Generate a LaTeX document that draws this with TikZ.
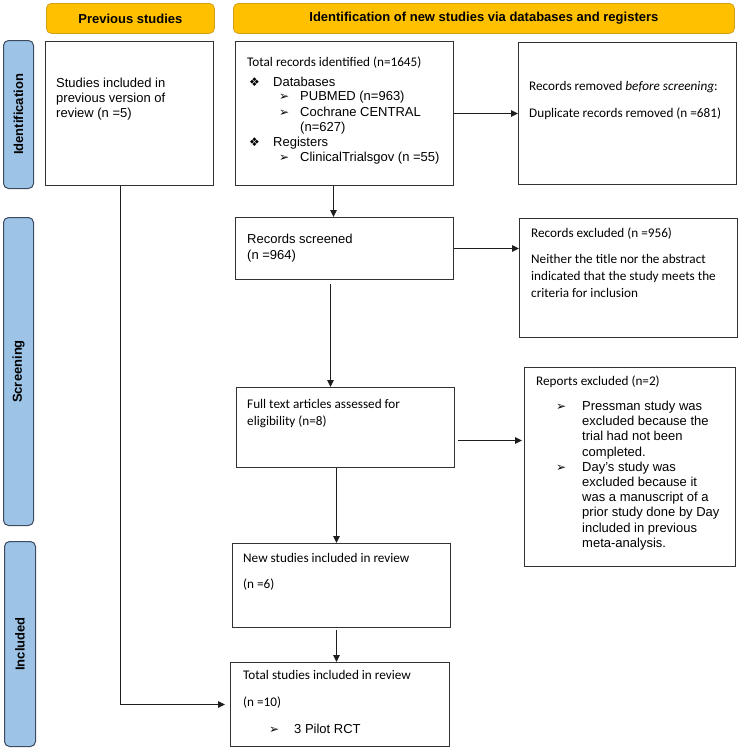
\documentclass[tikz,border=0pt]{standalone}
\usepackage{fontspec}
\setmainfont{Liberation Sans}
\newfontfamily\calib{Carlito}
\newfontfamily\djv{DejaVu Sans}
\usetikzlibrary{arrows.meta}
\begin{document}
\begin{tikzpicture}[x=1pt,y=-1pt,
  box/.style={draw={rgb,255:red,50;green,50;blue,50}, line width=1pt, inner sep=0pt, anchor=north west},
  hdr/.style={draw={rgb,255:red,214;green,160;blue,20}, fill={rgb,255:red,255;green,192;blue,0}, rounded corners=5pt, line width=0.8pt, inner sep=0pt, anchor=north west, font=\bfseries\fontsize{13}{15}\selectfont},
  side/.style={draw={rgb,255:red,60;green,75;blue,95}, fill={rgb,255:red,157;green,195;blue,230}, rounded corners=5pt, line width=1pt, inner sep=0pt, anchor=north west},
  sidelbl/.style={rotate=90, font=\bfseries\fontsize{13}{15}\selectfont, inner sep=0pt},
  ar/.style={font=\fontsize{13}{15}\selectfont, anchor=base west, inner sep=0pt},
  cb/.style={font=\calib\fontsize{13.2}{15}\selectfont, anchor=base west, inner sep=0pt},
  sym/.style={font=\djv\fontsize{12}{14}\selectfont, anchor=base west, inner sep=0pt},
  arr/.style={-{Triangle[length=7pt,width=6.5pt]}, line width=1pt, draw={rgb,255:red,30;green,30;blue,30}},
]
\useasboundingbox (0,0) rectangle (740,748);

% headers
\node[hdr, minimum width=168pt, minimum height=30pt] (hprev) at (46,3) {Previous studies};
\node[hdr, minimum width=501pt, minimum height=30pt] (hnew) at (233,3) {Identification of new studies via databases and registers};

% side bars
\node[side, minimum width=30pt, minimum height=148pt] (sid) at (3,40) {};
\node[sidelbl] (lid) at (sid.center) {Identification};
\node[side, minimum width=30pt, minimum height=308pt] (sscr) at (3,217) {};
\node[sidelbl] (lscr) at (sscr.center) {Screening};
\node[side, minimum width=31pt, minimum height=205pt] (sinc) at (4,541) {};
\node[sidelbl] (linc) at (sinc.center) {Included};

% boxes
\node[box, minimum width=168pt, minimum height=144pt] (prev) at (45,41) {};
\node[box, minimum width=218pt, minimum height=144pt] (total) at (235,41) {};
\node[box, minimum width=218pt, minimum height=142pt] (removed) at (518,42) {};
\node[box, minimum width=218pt, minimum height=62pt] (screened) at (235,217) {};
\node[box, minimum width=218pt, minimum height=119pt] (excluded) at (519,218) {};
\node[box, minimum width=218pt, minimum height=80pt] (fulltext) at (236,387) {};
\node[box, minimum width=211pt, minimum height=199pt] (reports) at (524,367) {};
\node[box, minimum width=218pt, minimum height=84pt] (newinc) at (232,543) {};
\node[box, minimum width=219pt, minimum height=84pt] (totalinc) at (230,662) {};

% texts: previous
\node[ar] (p1) at (56,87) {Studies included in};
\node[ar] (p2) at (56,102) {previous version of};
\node[ar] (p3) at (56,117) {review (n =5)};

% total records
\node[cb] (t0) at (247,66) {Total records identified (n=1645)};
\node[sym] (b1) at (249,86) {❖};
\node[ar] (t1) at (273,86) {Databases};
\node[sym] (b2) at (279,100) {➢};
\node[ar] (t2) at (300,100) {PUBMED (n=963)};
\node[sym] (b3) at (279,116) {➢};
\node[ar] (t3) at (300,116) {Cochrane CENTRAL};
\node[ar] (t4) at (300,131) {(n=627)};
\node[sym] (b4) at (249,146) {❖};
\node[ar] (t5) at (273,146) {Registers};
\node[sym] (b5) at (279,161) {➢};
\node[ar] (t6) at (300,161) {ClinicalTrialsgov (n =55)};

% removed
\node[cb] (r1) at (529,90) {Records removed \textit{before screening}:};
\node[cb] (r2) at (529,117) {Duplicate records removed (n =681)};

% screened
\node[ar] (s1) at (247,243) {Records screened};
\node[ar] (s2) at (247,259) {(n =964)};

% excluded
\node[cb] (e1) at (531,237) {Records excluded (n =956)};
\node[cb] (e2) at (531,263) {Neither the title nor the abstract};
\node[cb] (e3) at (531,280) {indicated that the study meets the};
\node[cb] (e4) at (531,297) {criteria for inclusion};

% full text
\node[cb] (f1) at (247,408) {Full text articles assessed for};
\node[cb] (f2) at (247,425) {eligibility (n=8)};

% reports excluded
\node[cb] (x0) at (536,385) {Reports excluded (n=2)};
\node[sym] (xb1) at (556,410.5) {➢};
\node[ar] (x1) at (582,410.5) {Pressman study was};
\node[ar] (x2) at (582,425.7) {excluded because the};
\node[ar] (x3) at (582,440.9) {trial had not been};
\node[ar] (x4) at (582,456.1) {completed.};
\node[sym] (xb2) at (556,471.3) {➢};
\node[ar] (x5) at (582,471.3) {Day’s study was};
\node[ar] (x6) at (582,486.5) {excluded because it};
\node[ar] (x7) at (582,501.7) {was a manuscript of a};
\node[ar] (x8) at (582,516.9) {prior study done by Day};
\node[ar] (x9) at (582,532.1) {included in previous};
\node[ar] (x10) at (582,547.3) {meta-analysis.};

% new studies
\node[cb] (n1) at (243,562) {New studies included in review};
\node[cb] (n2) at (243,588) {(n =6)};

% total studies
\node[cb] (i1) at (243,679) {Total studies included in review};
\node[cb] (i2) at (243,706) {(n =10)};
\node[sym] (ib) at (269,733) {➢};
\node[ar] (i3) at (294,733) {3 Pilot RCT};

% connector helper coordinates
\coordinate (fts) at ([xshift=3pt,yshift=-13pt]fulltext.east);
\coordinate (ftr) at (reports.west |- fts);

% connectors
\draw[arr] (total.east) -- (removed.west |- total.east);
\draw[arr] ([xshift=-11pt]total.south) -- ([xshift=-11pt]total.south |- screened.north);
\draw[arr] (screened.east) -- (excluded.west |- screened.east);
\draw[arr] ([xshift=-14pt,yshift=-4pt]screened.south) -- ([xshift=-14pt]screened.south |- fulltext.north);
\draw[arr] (fts) -- ([xshift=-2pt]ftr);
\draw[arr] ([xshift=-9pt]fulltext.south) -- ([xshift=-9pt]fulltext.south |- newinc.north);
\draw[arr] ([xshift=-5pt,yshift=-2pt]newinc.south) -- ([xshift=-5pt]newinc.south |- totalinc.north);
\draw[arr] ([xshift=-9pt]prev.south) |- ([xshift=-5pt]totalinc.west);
\end{tikzpicture}
\end{document}
